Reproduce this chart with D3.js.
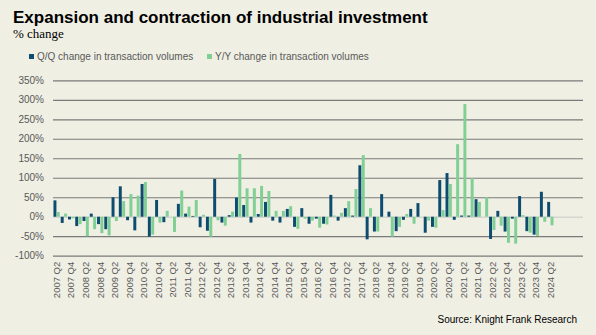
<!DOCTYPE html>
<html>
<head>
<meta charset="utf-8">
<script src="https://cdn.jsdelivr.net/npm/d3@7"></script>
<style>
  body { margin: 0; background: #efefe4; }
  #chart { width: 596px; height: 335px; }
  text { font-family: "Liberation Sans", Arial, sans-serif; }
</style>
</head>
<body>
<div id="chart"></div>
<script>
// quarters from 2007 Q2 to 2025 Q2 (last ones have no data)
var years = [2007, 2008, 2009, 2010, 2011, 2012, 2013, 2014, 2015, 2016, 2017, 2018, 2019, 2020, 2021, 2022, 2023, 2024, 2025];
var quarters = [];
years.forEach(function(y) {
  ["Q1", "Q2", "Q3", "Q4"].forEach(function(q) { quarters.push(y + " " + q); });
});
quarters = quarters.slice(1, 74);

var lastLabel = "2024 Q2";

var qoq = [42, -16, -7, -24, -11, 8, -19, -32, 50, 78, -9, -35, 84, -51, 43, -14, 0, 33, 8, 2,
           -27, -36, 97, -15, 4, 49, 30, -15, 7, 38, -10, -15, 20, -26, 22, -18, -5, -18, 56, -10,
           22, 3, 132, -58, -38, 58, 13, -37, -8, 20, 35, -41, -26, 94, 112, -8, 3, 3, 45, 0,
           -57, 15, -38, -5, 53, -37, -46, 64, 38];

var yoy = [12, 8, -4, -19, -50, -32, -42, -48, -11, 40, 58, 54, 89, -46, -15, 15, -39, 67, 26, 43,
           5, -51, -9, -23, 13, 161, 73, 73, 79, 66, 15, 15, 27, -31, -5, -10, -28, -20, 3, 10,
           40, 71, 158, 22, -38, 0, -51, -26, 7, -18, 0, -10, -28, 17, 84, 186, 289, 99, 38, 50,
           -34, -23, -67, -69, 4, -41, -49, -13, -22];

var yTicks = [-100, -50, 0, 50, 100, 150, 200, 250, 300, 350];
var seriesNames = ["Q/Q change in transaction volumes", "Y/Y change in transaction volumes"];
var colors = ["#0d4b6f", "#80cf95"];

var W = 596, H = 335;
var margin = {top: 80.3, left: 53, right: 13, bottom: 79.3};
var width = W - margin.left - margin.right,
    height = H - margin.top - margin.bottom;

var svg = d3.select("#chart").append("svg")
  .attr("width", W)
  .attr("height", H);

svg.append("rect").attr("width", W).attr("height", H).attr("fill", "#efefe4");

svg.append("text")
  .attr("x", 13).attr("y", 22.5)
  .style("font-size", "17px").style("font-weight", "bold")
  .attr("fill", "#000")
  .text("Expansion and contraction of industrial investment");

svg.append("text")
  .attr("x", 13).attr("y", 38)
  .style("font-family", "'Liberation Serif', 'Times New Roman', serif")
  .style("font-size", "13px")
  .attr("fill", "#000")
  .text("% change");

// legend
var legendX = [29, 207];
seriesNames.forEach(function(name, i) {
  svg.append("rect")
    .attr("x", legendX[i]).attr("y", 54)
    .attr("width", 5).attr("height", 5)
    .attr("fill", colors[i]);
  svg.append("text")
    .attr("x", legendX[i] + 8).attr("y", 59.5)
    .style("font-size", "10px")
    .attr("fill", "#595959")
    .text(name);
});

var g = svg.append("g")
  .attr("transform", "translate(" + margin.left + "," + margin.top + ")");

var x = d3.scaleBand().domain(quarters).range([0, width]).paddingInner(0).paddingOuter(0);
var x1 = d3.scaleBand().domain([0, 1]).range([0, x.bandwidth()]).paddingInner(0.12).paddingOuter(0.14);
var y = d3.scaleLinear().domain([-100, 350]).range([height, 0]);

// grid
var yAxis = d3.axisLeft(y).tickValues(yTicks).tickSize(-width).tickPadding(9)
  .tickFormat(function(d) { return d + "%"; });
var ya = g.append("g").call(yAxis);
ya.select(".domain").remove();
ya.selectAll("line")
  .attr("stroke", function(d) { return d === 0 ? "#d6d6d0" : "#7a7a7a"; })
  .attr("stroke-width", function(d) { return d === 0 ? 1.5 : 1.2; });
ya.selectAll("text")
  .attr("fill", "#595959")
  .style("font-size", "10px")
  .style("font-family", "'Liberation Sans', Arial, sans-serif");

// bars
var rows = qoq.map(function(v, i) { return {q: quarters[i], vals: [v, yoy[i]]}; });
var grp = g.selectAll(".grp").data(rows).enter().append("g")
  .attr("transform", function(d) { return "translate(" + x(d.q) + ",0)"; });
grp.selectAll("rect")
  .data(function(d) { return d.vals; })
  .enter().append("rect")
  .attr("x", function(d, i) { return x1(i); })
  .attr("width", x1.bandwidth())
  .attr("y", function(d) { return y(Math.max(0, d)); })
  .attr("height", function(d) { return Math.abs(y(d) - y(0)); })
  .attr("fill", function(d, i) { return colors[i]; });

// x axis labels
var labelIdx = quarters.indexOf(lastLabel);
var xAxis = d3.axisBottom(x)
  .tickValues(quarters.filter(function(q, i) { return i % 2 === 0 && i <= labelIdx; }))
  .tickSize(0).tickPadding(0);
var xa = g.append("g").attr("transform", "translate(0," + (height + 6) + ")").call(xAxis);
xa.select(".domain").remove();
xa.selectAll("text")
  .attr("transform", "rotate(-90)")
  .attr("x", 0).attr("y", 0).attr("dy", "0.35em")
  .style("text-anchor", "end")
  .style("font-size", "9.5px")
  .style("font-family", "'Liberation Sans', Arial, sans-serif")
  .attr("fill", "#595959");

svg.append("text")
  .attr("x", 577).attr("y", 323)
  .style("text-anchor", "end")
  .style("font-size", "10px")
  .attr("fill", "#000")
  .text("Source: Knight Frank Research");
</script>
</body>
</html>
